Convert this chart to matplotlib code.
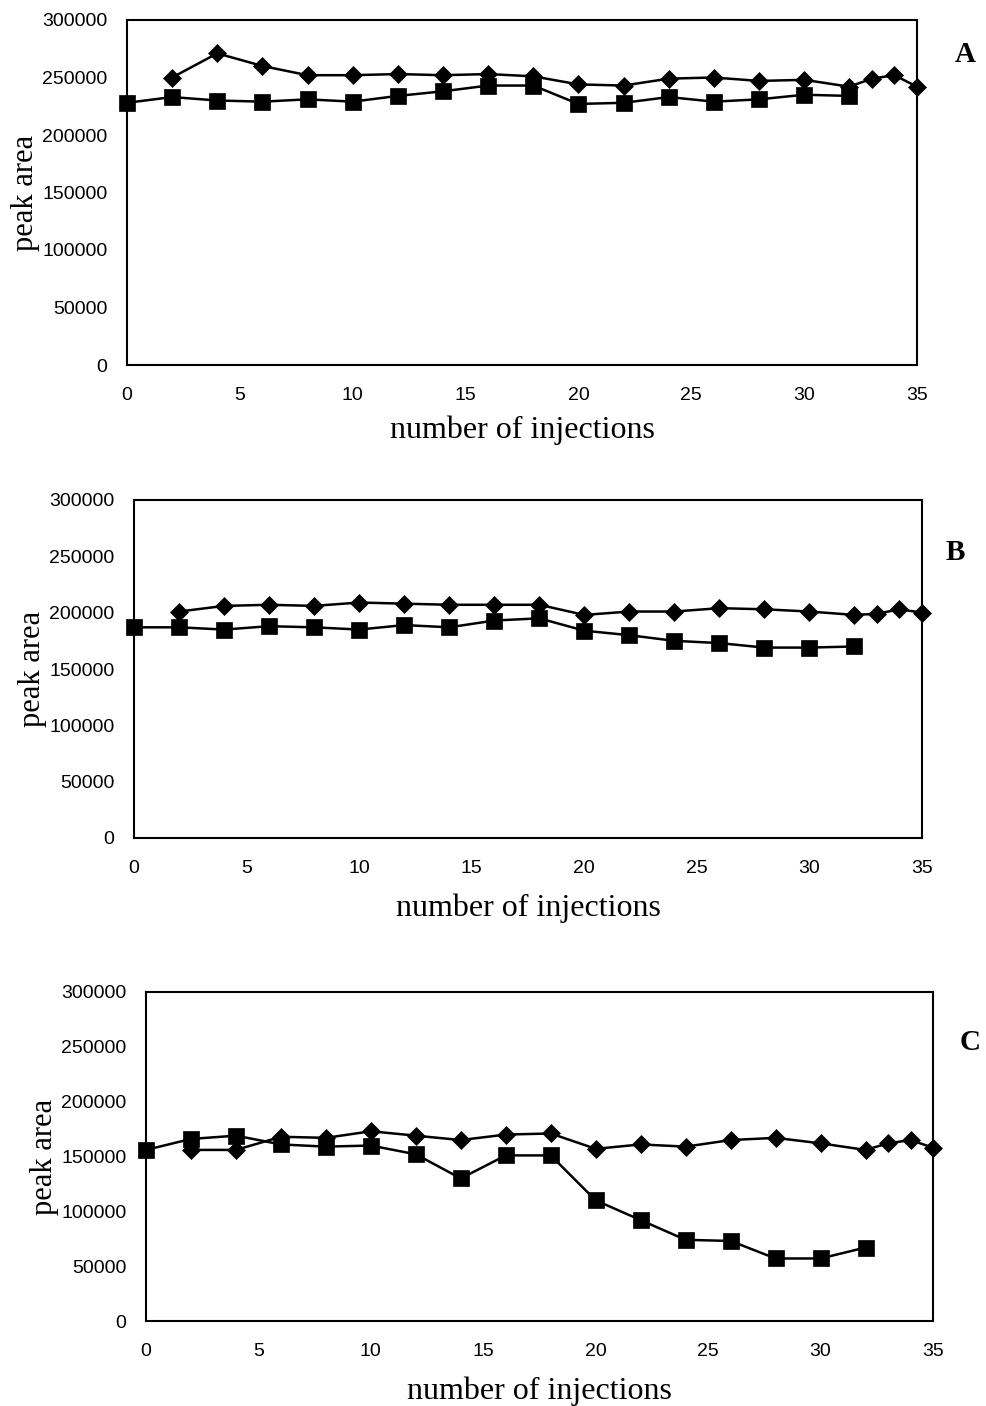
import numpy as np
import matplotlib.pyplot as plt

# injection numbers
x_sq = [0, 2, 4, 6, 8, 10, 12, 14, 16, 18, 20, 22, 24, 26, 28, 30, 32]
x_di = [2, 4, 6, 8, 10, 12, 14, 16, 18, 20, 22, 24, 26, 28, 30, 32, 33, 34, 35]

# panel A
a_di = [250000, 271000, 260000, 252000, 252000, 253000, 252000, 253000, 251000, 244000,
        243000, 249000, 250000, 247000, 248000, 242000, 249000, 252000, 242000]
a_sq = [228000, 233000, 230000, 229000, 231000, 229000, 234000, 238000, 243000, 243000,
        227000, 228000, 233000, 229000, 231000, 235000, 234000]

# panel B
b_di = [201000, 206000, 207000, 206000, 209000, 208000, 207000, 207000, 207000, 198000,
        201000, 201000, 204000, 203000, 201000, 198000, 199000, 203000, 200000]
b_sq = [187000, 187000, 185000, 188000, 187000, 185000, 189000, 187000, 193000, 195000,
        184000, 180000, 175000, 173000, 169000, 169000, 170000]

# panel C
c_di = [156000, 156000, 168000, 167000, 173000, 169000, 165000, 170000, 171000, 157000,
        161000, 159000, 165000, 167000, 162000, 156000, 162000, 165000, 158000]
c_sq = [156000, 166000, 169000, 161000, 159000, 160000, 152000, 130000, 151000, 151000,
        110000, 92000, 74000, 73000, 57000, 57000, 67000]

panels = [("A", a_di, a_sq), ("B", b_di, b_sq), ("C", c_di, c_sq)]

W, H = 986, 1406
fig = plt.figure(figsize=(W / 100, H / 100), dpi=100)

# axes boxes in pixels: left, top, right, bottom
boxes = [(127, 20, 917, 365), (134, 500, 922, 838), (146, 992, 933, 1321)]
letter_pos = [(965, 55), (955, 553), (970, 1043)]
label_pad = [8, 12, 12]

tick_font = ['Liberation Sans Narrow', 'Liberation Sans', 'DejaVu Sans']
serif = ['Liberation Serif', 'DejaVu Serif']

for (letter, di, sq), (l, t, r, b), (lx, ly), lp in zip(panels, boxes, letter_pos, label_pad):
    ax = fig.add_axes([l / W, 1 - b / H, (r - l) / W, (b - t) / H])
    ax.plot(x_di, di, color='black', lw=1.8, marker='D', ms=9.5, mew=0.5,
            clip_on=False, zorder=3)
    ax.plot(x_sq, sq, color='black', lw=1.8, marker='s', ms=11, mew=0.5,
            clip_on=False, zorder=3)
    ax.set_xlim(0, 35)
    ax.set_ylim(0, 300000)
    ax.set_xticks(np.arange(0, 36, 5))
    ax.set_yticks(np.arange(0, 300001, 50000))
    ax.tick_params(length=0, labelsize=14)
    ax.tick_params(axis='x', pad=16)
    ax.tick_params(axis='y', pad=14)
    for lab in ax.get_xticklabels() + ax.get_yticklabels():
        lab.set_family(tick_font)
    for s in ax.spines.values():
        s.set_linewidth(1.5)
    ax.set_xlabel("number of injections", family=serif, fontsize=23, labelpad=lp)
    ax.set_ylabel("peak area", family=serif, fontsize=22, labelpad=2)
    fig.text(lx / W, 1 - ly / H, letter, family=serif,
             fontsize=21, fontweight='bold', ha='center', va='center')

fig.savefig("out.png", dpi=100)
